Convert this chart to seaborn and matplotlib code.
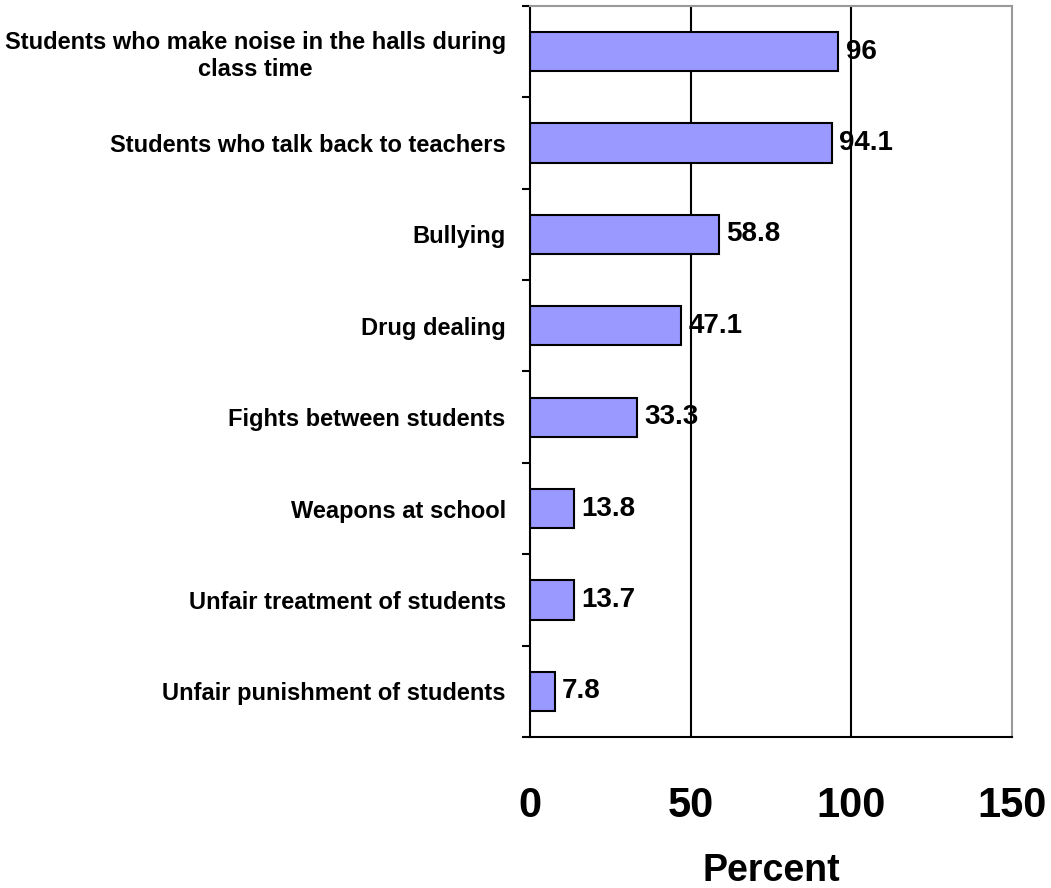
import matplotlib
matplotlib.use("Agg")
import matplotlib.pyplot as plt
import seaborn as sns
import pandas as pd

categories = [
    "Students who make noise in the halls during\nclass time",
    "Students who talk back to teachers",
    "Bullying",
    "Drug dealing",
    "Fights between students",
    "Weapons at school",
    "Unfair treatment of students",
    "Unfair punishment of students",
]
values = [96, 94.1, 58.8, 47.1, 33.3, 13.8, 13.7, 7.8]
value_labels = ["96", "94.1", "58.8", "47.1", "33.3", "13.8", "13.7", "7.8"]
x_ticks = [0, 50, 100, 150]

df = pd.DataFrame({"issue": categories, "pct": values})

sns.set_style("white")
plt.rcParams["font.family"] = ["Liberation Sans", "DejaVu Sans"]
plt.rcParams["text.color"] = "black"
plt.rcParams["xtick.color"] = "black"
plt.rcParams["ytick.color"] = "black"
plt.rcParams["axes.labelcolor"] = "black"

fig = plt.figure(figsize=(10.51, 8.88), dpi=100)
ax = fig.add_axes([530 / 1051, 1 - 737 / 888, (1012 - 530) / 1051, (737 - 6) / 888])

sns.barplot(data=df, y="issue", x="pct", orient="h", color="#9999FF",
            edgecolor="black", linewidth=1.5, width=0.43, saturation=1, ax=ax, zorder=2)

ax.set_xlim(0, 150)
ax.set_ylim(len(categories) - 0.5, -0.5)

# vertical gridlines behind bars
for xv in x_ticks[1:-1]:
    ax.axvline(xv, color="black", linewidth=1.5, zorder=1)

ax.set_xticks(x_ticks)
ax.set_xticklabels([str(t) for t in x_ticks], fontsize=30, fontweight="bold")
ax.tick_params(axis="x", direction="out", length=9.5, width=1.5, color="black", pad=26)

# category ticks at the boundaries between bars
ax.set_yticks([i - 0.5 for i in range(len(categories) + 1)], minor=True)
ax.set_yticks(range(len(categories)))
ax.set_yticklabels(categories, fontsize=17, fontweight="bold", ha="right",
                   multialignment="center")
ax.tick_params(axis="y", which="major", length=0, pad=17.5)
ax.tick_params(axis="y", which="minor", direction="out", length=6, width=1.5,
               color="black", left=True)

ax.set_xlabel("Percent", fontsize=27, fontweight="bold", labelpad=19)
ax.set_ylabel("")

for spine in ["left", "bottom"]:
    ax.spines[spine].set_color("black")
    ax.spines[spine].set_linewidth(1.5)
for spine in ["top", "right"]:
    ax.spines[spine].set_visible(True)
    ax.spines[spine].set_color("#999999")
    ax.spines[spine].set_linewidth(1.5)

for i, (v, txt) in enumerate(zip(values, value_labels)):
    ax.text(v + 2.2, i, txt, va="center", ha="left", fontsize=20,
            fontweight="bold", zorder=3)

fig.savefig("out.png", dpi=100)
